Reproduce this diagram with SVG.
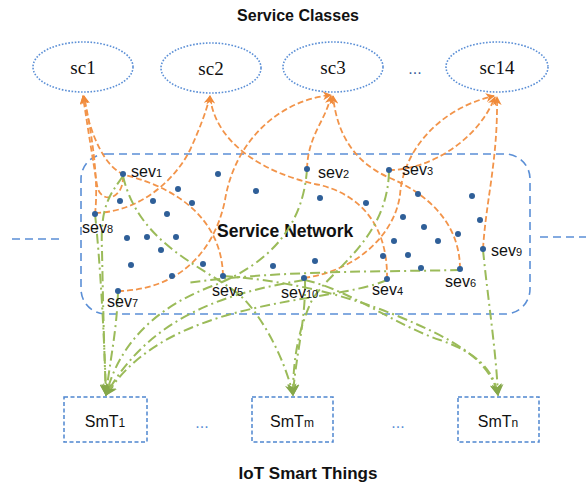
<svg xmlns="http://www.w3.org/2000/svg" width="586" height="487" viewBox="0 0 586 487">
<defs>
<style>
.title{font-family:"Liberation Sans",Arial,sans-serif;font-weight:bold;fill:#111}
.sc{fill:none;stroke:#5b8fd6;stroke-width:1.6;stroke-dasharray:1.6 1.6}
.sctxt{font-family:"Liberation Serif","Times New Roman",serif;font-size:19px;fill:#111;text-anchor:middle}
.box{fill:none;stroke:#4f86d0;stroke-width:1.5;stroke-dasharray:4 2.5}
.boxtxt{font-family:"Liberation Sans",Arial,sans-serif;font-size:16px;fill:#111;text-anchor:middle}
.net{fill:none;stroke:#5b8fd6;stroke-width:1.6;stroke-dasharray:8 5}
.dot{fill:#2f5f98}
.lbl{font-family:"Liberation Sans",Arial,sans-serif;font-size:16px;fill:#111}
.sub{font-size:11px}
.or{fill:none;stroke:#f2944a;stroke-width:1.8;stroke-dasharray:6 3;marker-end:url(#ao)}
.gr{fill:none;stroke:#9bbb59;stroke-width:2;stroke-dasharray:10 4 2 4;marker-end:url(#ag)}
.gn{fill:none;stroke:#9bbb59;stroke-width:2;stroke-dasharray:10 4 2 4}
.ell{font-family:"Liberation Sans",Arial,sans-serif;font-size:16px;text-anchor:middle}
</style>
<marker id="ao" viewBox="0 0 10 10" refX="9" refY="5" markerWidth="9" markerHeight="9" markerUnits="userSpaceOnUse" orient="auto">
<path d="M0,0 L10,5 L0,10 L3,5 z" fill="#f08a3a"/>
</marker>
<marker id="ag" viewBox="0 0 10 10" refX="9" refY="5" markerWidth="12" markerHeight="12" markerUnits="userSpaceOnUse" orient="auto">
<path d="M0,0 L10,5 L0,10 L3,5 z" fill="#86a84a"/>
</marker>
</defs>
<rect width="586" height="487" fill="#ffffff"/>

<text class="title" x="298" y="21" font-size="16" text-anchor="middle">Service Classes</text>
<text class="title" x="308" y="479" font-size="17" text-anchor="middle">IoT Smart Things</text>

<g id="service-network">
<rect class="net" x="81" y="154" width="449" height="160" rx="25" ry="25"/>
<line class="net" x1="12" y1="239" x2="64" y2="239"/>
<line class="net" x1="540" y1="237" x2="586" y2="237"/>
<text class="title" x="217" y="237" font-size="17.5">Service Network</text>
</g>

<g id="connectors">
<path class="or" d="M95,214 C99,180 92,135 84,96"/>
<path class="or" d="M123,176 C124,200 100,205 97,185 C93,160 88,130 83,96"/>
<path class="or" d="M223,276 C222,225 185,190 125,175 C105,168 90,135 83,96"/>
<path class="or" d="M95,213 C140,212 175,180 190,150 C200,128 206,112 210,96"/>
<path class="or" d="M118,291 C180,290 215,250 225,200 C235,140 280,100 331,95"/>
<path class="or" d="M387,279 C388,225 360,195 320,185 C268,175 215,145 210,96"/>
<path class="or" d="M307,169 C308,135 325,122 331,96"/>
<path class="or" d="M460,269 C460,225 430,195 390,178 C355,163 337,135 333,96"/>
<path class="or" d="M304,278 C360,270 395,232 400,195 C403,150 440,108 494,96"/>
<path class="or" d="M389,170 C430,170 478,140 495,97"/>
<path class="or" d="M483,249 C486,200 498,160 497,97"/>

<path class="gr" d="M123,176 C110,195 100,205 102,250 C103,300 104,350 106,395"/>
<path class="gr" d="M95,214 C100,260 104,330 106,395"/>
<path class="gr" d="M118,291 C117,330 110,360 106,395"/>
<path class="gr" d="M307,169 C303,230 265,265 215,285 C160,305 120,340 106,395"/>
<path class="gr" d="M304,280 C230,292 150,315 106,395"/>
<path class="gr" d="M387,280 C330,305 170,295 106,395"/>
<path class="gr" d="M123,176 C140,250 215,270 245,300 C265,322 285,360 293,395"/>
<path class="gr" d="M389,172 C387,240 330,270 312,300 C298,330 293,360 293,395"/>
<path class="gr" d="M305,280 C306,320 295,360 293,395"/>
<path class="gr" d="M223,276 C280,280 340,292 400,317 C455,340 490,360 498,395"/>
<path class="gr" d="M305,280 C350,290 395,325 440,340 C475,352 493,368 498,395"/>
<path class="gr" d="M483,250 C488,300 496,350 498,395"/>
<path class="gn" d="M460,270 C380,272 280,270 187,283"/>
</g>

<g id="network-dots">
<circle class="dot" cx="218" cy="174" r="3"/><circle class="dot" cx="256" cy="191" r="3"/>
<circle class="dot" cx="178" cy="189" r="3"/><circle class="dot" cx="120" cy="201" r="3"/>
<circle class="dot" cx="153" cy="201" r="3"/><circle class="dot" cx="192" cy="203" r="3"/>
<circle class="dot" cx="167" cy="214" r="3"/><circle class="dot" cx="127" cy="238" r="3"/>
<circle class="dot" cx="147" cy="237" r="3"/><circle class="dot" cx="176" cy="237" r="3"/>
<circle class="dot" cx="161" cy="250" r="3"/><circle class="dot" cx="131" cy="265" r="3"/>
<circle class="dot" cx="203" cy="264" r="3"/><circle class="dot" cx="172" cy="276" r="3"/>
<circle class="dot" cx="273" cy="266" r="3"/><circle class="dot" cx="315" cy="261" r="3"/>
<circle class="dot" cx="320" cy="198" r="3"/><circle class="dot" cx="366" cy="203" r="3"/>
<circle class="dot" cx="418" cy="194" r="3"/><circle class="dot" cx="472" cy="196" r="3"/>
<circle class="dot" cx="403" cy="217" r="3"/><circle class="dot" cx="424" cy="227" r="3"/>
<circle class="dot" cx="480" cy="220" r="3"/><circle class="dot" cx="394" cy="241" r="3"/>
<circle class="dot" cx="438" cy="241" r="3"/><circle class="dot" cx="458" cy="234" r="3"/>
<circle class="dot" cx="383" cy="256" r="3"/><circle class="dot" cx="408" cy="255" r="3"/>
<circle class="dot" cx="421" cy="268" r="3"/>
</g>

<g id="sev1"><circle class="dot" cx="123" cy="174" r="3"/><text class="lbl" x="131" y="177">sev<tspan class="sub">1</tspan></text></g>
<g id="sev2"><circle class="dot" cx="307" cy="169" r="3"/><text class="lbl" x="318" y="178">sev<tspan class="sub">2</tspan></text></g>
<g id="sev3"><circle class="dot" cx="389" cy="170" r="3"/><text class="lbl" x="402" y="175">sev<tspan class="sub">3</tspan></text></g>
<g id="sev4"><circle class="dot" cx="387" cy="279" r="3"/><text class="lbl" x="372" y="295">sev<tspan class="sub">4</tspan></text></g>
<g id="sev5"><circle class="dot" cx="223" cy="276" r="3"/><text class="lbl" x="212" y="296">sev<tspan class="sub">5</tspan></text></g>
<g id="sev6"><circle class="dot" cx="460" cy="269" r="3"/><text class="lbl" x="445" y="287">sev<tspan class="sub">6</tspan></text></g>
<g id="sev7"><circle class="dot" cx="118" cy="291" r="3"/><text class="lbl" x="107" y="307">sev<tspan class="sub">7</tspan></text></g>
<g id="sev8"><circle class="dot" cx="95" cy="214" r="3"/><text class="lbl" x="82" y="233">sev<tspan class="sub">8</tspan></text></g>
<g id="sev9"><circle class="dot" cx="483" cy="249" r="3"/><text class="lbl" x="491" y="256">sev<tspan class="sub">9</tspan></text></g>
<g id="sev10"><circle class="dot" cx="304" cy="278" r="3"/><text class="lbl" x="281" y="298">sev<tspan class="sub">10</tspan></text></g>

<g id="sc1"><ellipse class="sc" cx="83" cy="67" rx="50" ry="25"/><text class="sctxt" x="83" y="74">sc1</text></g>
<g id="sc2"><ellipse class="sc" cx="211" cy="68" rx="50" ry="25"/><text class="sctxt" x="211" y="75">sc2</text></g>
<g id="sc3"><ellipse class="sc" cx="333" cy="67" rx="50" ry="25"/><text class="sctxt" x="333" y="74">sc3</text></g>
<text class="ell" x="415" y="74" fill="#3b5f9a">...</text>
<g id="sc14"><ellipse class="sc" cx="497" cy="67" rx="51" ry="25"/><text class="sctxt" x="497" y="74">sc14</text></g>

<g id="smt1"><rect class="box" x="64" y="397" width="83" height="45"/><text class="boxtxt" x="105" y="427">SmT<tspan font-size="12">1</tspan></text></g>
<text class="ell" x="202" y="428" fill="#5b8fd6">...</text>
<g id="smtm"><rect class="box" x="252" y="397" width="81" height="45"/><text class="boxtxt" x="292" y="427">SmT<tspan font-size="12">m</tspan></text></g>
<text class="ell" x="398" y="428" fill="#5b8fd6">...</text>
<g id="smtn"><rect class="box" x="458" y="397" width="81" height="45"/><text class="boxtxt" x="498" y="427">SmT<tspan font-size="12">n</tspan></text></g>
</svg>
